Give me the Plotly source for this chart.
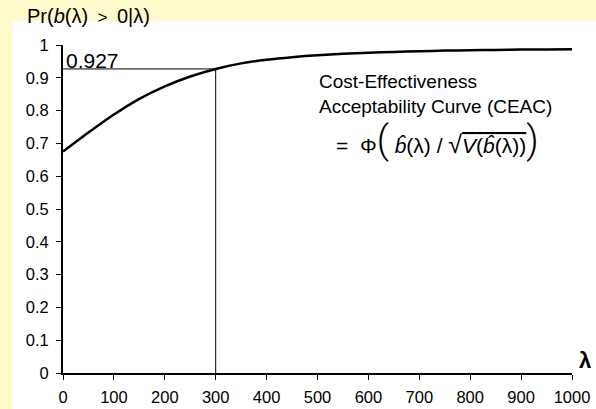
import plotly.graph_objects as go

# ---- data ----
lam = [0, 50, 100, 150, 200, 250, 300, 350, 400, 450, 500,
       550, 600, 650, 700, 750, 800, 850, 900, 950, 1000]
ceac = [0.675, 0.733, 0.788, 0.836, 0.874, 0.904, 0.927, 0.944, 0.955, 0.963, 0.969,
        0.973, 0.976, 0.979, 0.981, 0.983, 0.984, 0.985, 0.986, 0.986, 0.987]
lam_ref = 300
p_ref = 0.927
x_ticks = [0, 100, 200, 300, 400, 500, 600, 700, 800, 900, 1000]
y_ticks = [0, 0.1, 0.2, 0.3, 0.4, 0.5, 0.6, 0.7, 0.8, 0.9, 1]
y_tick_labels = ["0", "0.1", "0.2", "0.3", "0.4", "0.5", "0.6", "0.7", "0.8", "0.9", "1"]

FONT = "Liberation Sans, Arial, sans-serif"
YEL = "#FFFACC"

W, H = 596, 409
L, R, T, B = 63, 24, 45, 36
PW, PH = W - L - R, H - T - B


def px(xp):
    return (xp - L) / PW


def py(yp):
    return (H - B - yp) / PH


fig = go.Figure()

# reference lines (from lam_ref / p_ref)
fig.add_trace(go.Scatter(x=[lam[0], lam_ref], y=[p_ref, p_ref], mode="lines",
                         line=dict(color="black", width=1), hoverinfo="skip"))
fig.add_trace(go.Scatter(x=[lam_ref, lam_ref], y=[0, p_ref], mode="lines",
                         line=dict(color="black", width=1), hoverinfo="skip"))
# CEAC curve
fig.add_trace(go.Scatter(x=lam, y=ceac, mode="lines",
                         line=dict(color="black", width=2.5, shape="spline", smoothing=0.6),
                         hoverinfo="skip"))

shapes = [
    dict(type="rect", xref="paper", yref="paper", x0=px(0), x1=px(W), y0=py(0), y1=py(21),
         fillcolor=YEL, line=dict(width=0), layer="below"),
    dict(type="rect", xref="paper", yref="paper", x0=px(0), x1=px(13), y0=py(H), y1=py(0),
         fillcolor=YEL, line=dict(width=0), layer="below"),
]

BIG = "font-family:Roboto;font-weight:300;font-size:38px"
formula = ("=  Φ<span style='%s'>(</span> <i>b̂</i>(λ) / <span style='font-size:25px'>√</span>"
           "<span style='text-decoration:overline'><i>V</i>(<i>b̂</i>(λ))</span>"
           "<span style='%s'>)</span>") % (BIG, BIG)

annotations = [
    dict(text="Pr(<i>b</i>(λ)<span style='font-size:17px'>  >  </span>0|λ)", xref="paper", yref="paper",
         x=px(25), y=py(16), xanchor="left", yanchor="middle", showarrow=False,
         font=dict(size=20, color="black", family=FONT)),
    dict(text=f"{p_ref:.3f}", xref="x", yref="y", x=lam[0], y=p_ref, xshift=1, yshift=-5,
         xanchor="left", yanchor="bottom", showarrow=False, font=dict(size=21, color="black", family=FONT)),
    dict(text="Cost-Effectiveness<br>Acceptability Curve (CEAC)", xref="paper", yref="paper",
         x=px(317), y=py(94), xanchor="left", yanchor="middle", align="left", showarrow=False,
         font=dict(size=19, color="black", family=FONT)),
    dict(text=formula,
         xref="paper", yref="paper", x=px(437), y=py(140), xanchor="center", yanchor="middle",
         showarrow=False, font=dict(size=21, color="black", family=FONT)),
    dict(text="<b>λ</b>", xref="paper", yref="paper", x=px(585), y=py(360), xanchor="center",
         yanchor="middle", showarrow=False, font=dict(size=22, color="black", family=FONT)),
]

fig.update_layout(
    width=W, height=H,
    margin=dict(l=L, r=R, t=T, b=B, pad=0, autoexpand=False),
    paper_bgcolor="white", plot_bgcolor="white",
    showlegend=False,
    font=dict(family=FONT, size=16, color="black"),
    shapes=shapes,
    annotations=annotations,
    xaxis=dict(range=[0, 1000], tickvals=x_ticks, ticks="outside", ticklen=5, tickwidth=1,
               tickcolor="black", showline=True, linecolor="black", linewidth=2, showgrid=False,
               zeroline=False, tickfont=dict(size=16.5, family=FONT), fixedrange=True,
               automargin=False, ticklabelstandoff=3),
    yaxis=dict(range=[0, 1], tickvals=y_ticks, ticktext=y_tick_labels, ticks="outside", ticklen=5,
               tickwidth=1, tickcolor="black", showline=True, linecolor="black", linewidth=2,
               showgrid=False, zeroline=False, tickfont=dict(size=16.5, family=FONT), fixedrange=True,
               automargin=False, ticklabelstandoff=4),
)

fig.write_html("out.html", config={"displayModeBar": False})
